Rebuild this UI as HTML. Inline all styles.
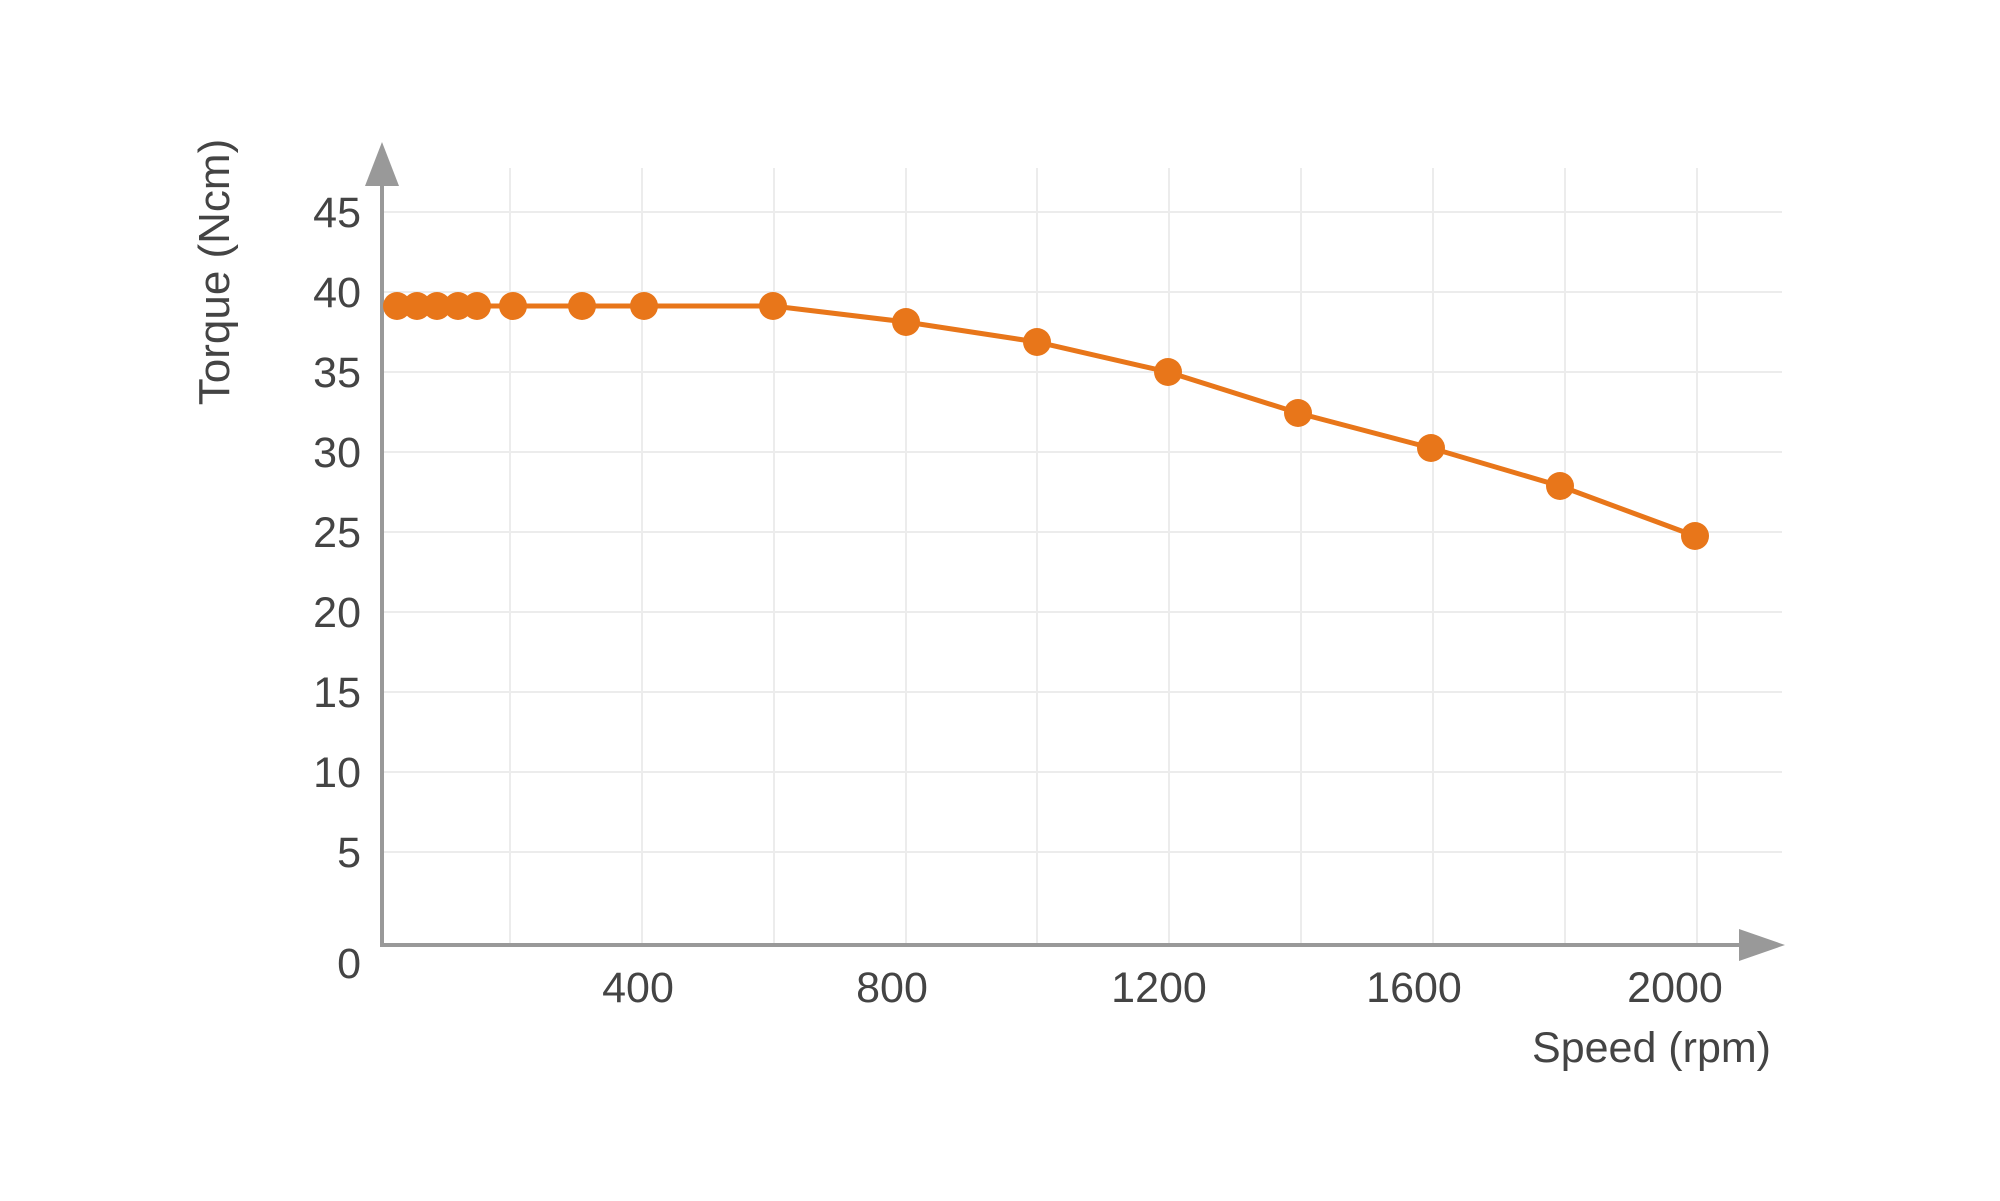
<!DOCTYPE html>
<html><head><meta charset="utf-8"><style>html,body{margin:0;padding:0;background:#fff}svg{display:block}</style></head>
<body>
<svg width="2000" height="1201" viewBox="0 0 2000 1201" xmlns="http://www.w3.org/2000/svg" font-family="'Liberation Sans', sans-serif" fill="#444">
<g stroke="#ececec" stroke-width="2">
<line x1="382" y1="212" x2="1782" y2="212"/><line x1="382" y1="292" x2="1782" y2="292"/><line x1="382" y1="372" x2="1782" y2="372"/><line x1="382" y1="452" x2="1782" y2="452"/><line x1="382" y1="532" x2="1782" y2="532"/><line x1="382" y1="612" x2="1782" y2="612"/><line x1="382" y1="692" x2="1782" y2="692"/><line x1="382" y1="772" x2="1782" y2="772"/><line x1="382" y1="852" x2="1782" y2="852"/>
<line x1="510" y1="168" x2="510" y2="945"/><line x1="642" y1="168" x2="642" y2="945"/><line x1="774" y1="168" x2="774" y2="945"/><line x1="906" y1="168" x2="906" y2="945"/><line x1="1037" y1="168" x2="1037" y2="945"/><line x1="1169" y1="168" x2="1169" y2="945"/><line x1="1301" y1="168" x2="1301" y2="945"/><line x1="1433" y1="168" x2="1433" y2="945"/><line x1="1565" y1="168" x2="1565" y2="945"/><line x1="1697" y1="168" x2="1697" y2="945"/>
</g>
<g stroke="#999" stroke-width="4"><line x1="382" y1="184" x2="382" y2="947"/><line x1="380" y1="945" x2="1742" y2="945"/></g>
<polygon points="382,142 365,186 399,186" fill="#999"/>
<polygon points="1785,945 1739,929 1739,961" fill="#999"/>
<polyline fill="none" stroke="#E8761A" stroke-width="5" points="397,306 417,306 437,306 458,306 477,306 513,306 582,306 644,306 773,306 906,322 1037,342 1168,372 1298,413 1431,448 1560,486 1695,536"/>
<g fill="#E8761A">
<circle cx="397" cy="306" r="14"/><circle cx="417" cy="306" r="14"/><circle cx="437" cy="306" r="14"/><circle cx="458" cy="306" r="14"/><circle cx="477" cy="306" r="14"/><circle cx="513" cy="306" r="14"/><circle cx="582" cy="306" r="14"/><circle cx="644" cy="306" r="14"/><circle cx="773" cy="306" r="14"/><circle cx="906" cy="322" r="14"/><circle cx="1037" cy="342" r="14"/><circle cx="1168" cy="372" r="14"/><circle cx="1298" cy="413" r="14"/><circle cx="1431" cy="448" r="14"/><circle cx="1560" cy="486" r="14"/><circle cx="1695" cy="536" r="14"/>
</g>
<g font-size="43" text-anchor="end">
<text x="361" y="227">45</text><text x="361" y="307">40</text><text x="361" y="387">35</text><text x="361" y="467">30</text><text x="361" y="547">25</text><text x="361" y="627">20</text><text x="361" y="707">15</text><text x="361" y="787">10</text><text x="361" y="867">5</text><text x="361" y="978">0</text>
</g>
<g font-size="43" text-anchor="middle">
<text x="638" y="1002">400</text><text x="892" y="1002">800</text><text x="1159" y="1002">1200</text><text x="1414" y="1002">1600</text><text x="1675" y="1002">2000</text>
</g>
<text x="1771" y="1062" font-size="43" text-anchor="end">Speed (rpm)</text>
<text transform="translate(229,272) rotate(-90)" font-size="44" text-anchor="middle">Torque (Ncm)</text>
</svg>
</body></html>
